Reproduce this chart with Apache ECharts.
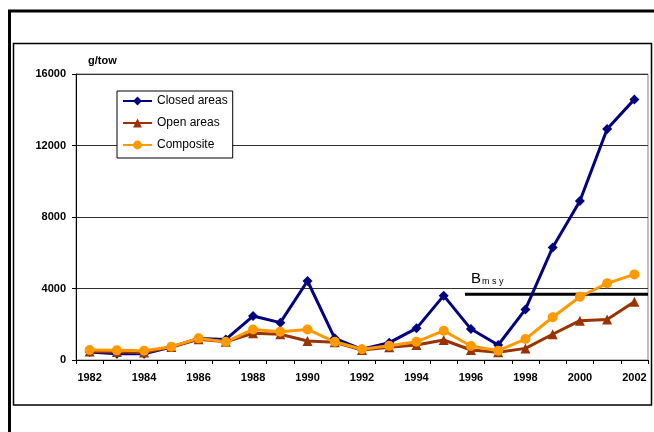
<!DOCTYPE html>
<html>
<head>
<meta charset="utf-8">
<script src="https://cdn.jsdelivr.net/npm/echarts@6/dist/echarts.min.js"></script>
<style>
html,body{margin:0;padding:0;background:#fff;}
#chart{width:654px;height:432px;}
</style>
</head>
<body>
<div id="chart"></div>
<script>
const years = ['1982','1983','1984','1985','1986','1987','1988','1989','1990','1991','1992','1993','1994','1995','1996','1997','1998','1999','2000','2001','2002'];
const closedAreas = [450,350,350,720,1200,1150,2460,2090,4420,1210,600,970,1770,3600,1730,840,2830,6300,8900,12920,14580];
const openAreas   = [480,450,420,730,1160,1020,1490,1440,1060,990,560,710,840,1120,560,430,650,1440,2200,2270,3260];
const composite   = [560,540,520,745,1210,1020,1710,1580,1710,1020,600,800,1020,1640,780,520,1170,2390,3540,4290,4790];
const bmsyValue = 3675;
const bmsyStart = 14.28;   // position along year axis (in category units from left edge)
const yTicks = {min:0, max:16000, interval:4000};

const font = '"Liberation Sans", Arial, sans-serif';
const chart = echarts.init(document.getElementById('chart'), null, {renderer:'canvas'});

const option = {
  animation:false,
  backgroundColor:'#fff',
  grid:{left:76, top:74, right:6, bottom:72, show:true, borderColor:'#808080', borderWidth:1, containLabel:false},
  legend:{
    data:['Closed areas','Open areas','Composite'],
    orient:'vertical', left:117, top:91,
    padding:[4,5,7,5], itemGap:10, itemWidth:29, itemHeight:11,
    borderColor:'#000', borderWidth:1, backgroundColor:'#fff',
    textStyle:{fontFamily:font, fontSize:12, color:'#000'}
  },
  xAxis:[{
    type:'category', data:years, boundaryGap:true,
    axisLine:{lineStyle:{color:'#000', width:1}},
    axisTick:{show:true, interval:0, length:4, lineStyle:{color:'#000'}},
    axisLabel:{interval:1, margin:12, fontFamily:font, fontWeight:'bold', fontSize:11, color:'#000'},
    splitLine:{show:false}
  },{
    type:'value', min:0, max:years.length, show:false
  }],
  yAxis:{
    type:'value', min:yTicks.min, max:yTicks.max, interval:yTicks.interval,
    axisLine:{show:true, lineStyle:{color:'#000'}},
    axisTick:{show:true, length:4, lineStyle:{color:'#000'}},
    axisLabel:{margin:10, fontFamily:font, fontWeight:'bold', fontSize:11, color:'#000', formatter:function(v){return String(v);}},
    splitLine:{show:true, lineStyle:{color:'#303030', width:1}}
  },
  series:[
    {name:'Closed areas', type:'line', data:closedAreas, symbol:'diamond', symbolSize:10,
     lineStyle:{color:'#000080', width:3}, itemStyle:{color:'#000080'}},
    {name:'Open areas', type:'line', data:openAreas, symbol:'triangle', symbolSize:10,
     lineStyle:{color:'#993300', width:3}, itemStyle:{color:'#993300'}},
    {name:'Composite', type:'line', data:composite, symbol:'circle', symbolSize:10,
     lineStyle:{color:'#FF9900', width:3}, itemStyle:{color:'#FF9900'}},
    {name:'Bmsy', type:'line', xAxisIndex:1, data:[[bmsyStart,bmsyValue],[years.length,bmsyValue]],
     symbol:'none', lineStyle:{color:'#000', width:3}, z:1}
  ]
};
chart.setOption(option);

const p = chart.convertToPixel({xAxisIndex:1, yAxisIndex:0}, [bmsyStart, bmsyValue]);
chart.setOption({graphic:[
  {type:'rect', shape:{x:9.5, y:11, width:700, height:500}, style:{fill:null, stroke:'#000', lineWidth:3}, silent:true},
  {type:'rect', shape:{x:13.5, y:43.5, width:638, height:361.5}, style:{fill:null, stroke:'#000', lineWidth:1.5}, silent:true},
  {type:'text', left:88, top:55, style:{text:'g/tow', fontFamily:font, fontWeight:'bold', fontSize:11, fill:'#000'}},
  {type:'text', x:p[0]+6, y:p[1]-24, style:{
    text:'{b|B}{s|m s y}', fontFamily:font,
    rich:{b:{fontSize:15, fontFamily:font, fill:'#000', verticalAlign:'bottom'},
          s:{fontSize:9, fontFamily:font, fill:'#000', padding:[7,0,0,1], verticalAlign:'bottom'}}
  }}
]});
</script>
</body>
</html>
